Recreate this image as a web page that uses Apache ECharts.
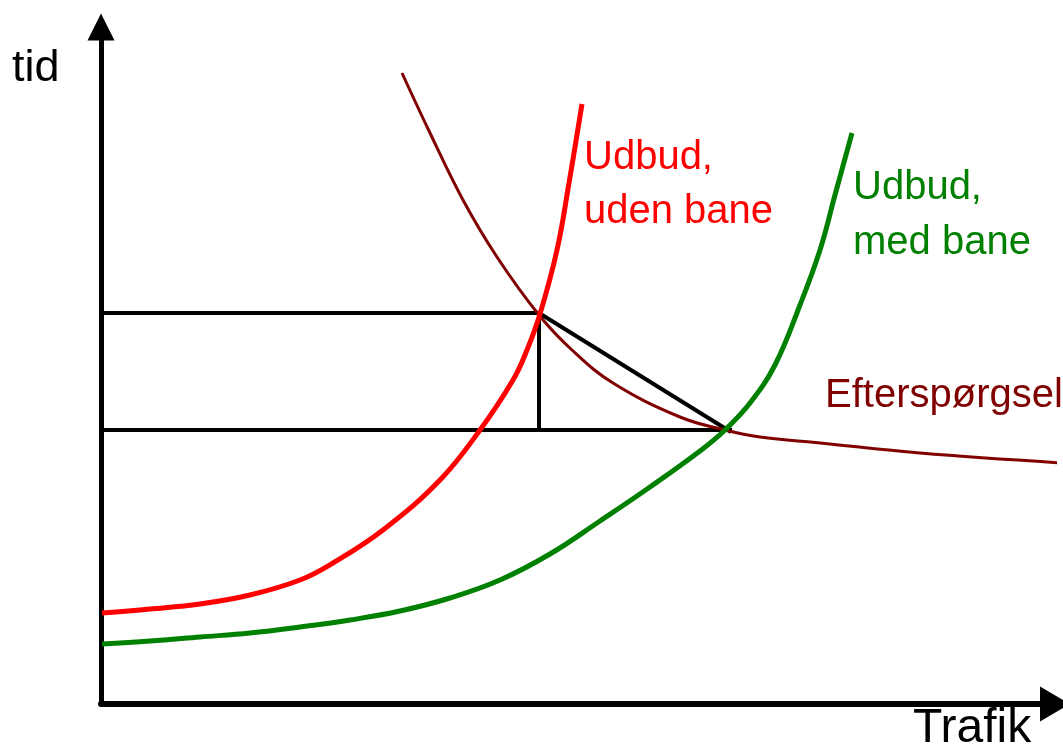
<!DOCTYPE html>
<html>
<head>
<meta charset="utf-8">
<script src="https://cdn.jsdelivr.net/npm/echarts@6/dist/echarts.min.js"></script>
<style>
html,body{margin:0;padding:0;background:#fff;}
#chart{width:1063px;height:753px;}
</style>
</head>
<body>
<div id="chart"></div>
<script>
// Curves (x = traffic, y = time, in arbitrary units from the origin)
const supplyWithoutRail = [[1,91],[49,95],[99,100],[149,109],[199,124],[232,141],[282,174],[339,224],[379,274],[412,324],[426,354],[439,390],[456,454],[468,521],[481,600]];
const supplyWithRail = [[1,60],[49,63],[99,67],[149,71],[199,77],[249,84],[299,93],[349,106],[399,124],[449,150],[499,183],[549,217],[599,253],[624,274],[649,301],[674,339],[699,399],[719,454],[734,509],[751,571]];
const demand = [[301,631],[329,571],[362,504],[396,447],[438,389],[471,354],[512,321],[579,287],[624,274],[659,267],[719,261],[819,251],[962,241]];
// Guide lines
const upperLevel = [[0,391],[439,391]];
const dropLine = [[438,391],[438,274]];
const lowerLevel = [[0,274],[631,274]];
const diagonal = [[438,391],[630,272]];
// Texts
const yAxisName = 'tid';
const xAxisName = 'Trafik';
const labelWithout = ['Udbud,', 'uden bane'];
const labelWith = ['Udbud,', 'med bane'];
const labelDemand = 'Efterspørgsel';

const FONT = '"Liberation Sans", Arial, sans-serif';
const chart = echarts.init(document.getElementById('chart'));

function guide(data) {
  return {type:'line', data:data, symbol:'none', silent:true, z:1,
    lineStyle:{color:'#000', width:4}};
}
function curve(data, color, width, z) {
  return {type:'line', data:data, symbol:'none', smooth:0.4, clip:false, z:z,
    lineStyle:{color:color, width:width, cap:'butt'}};
}
function txt(text, x, y, size, color) {
  return {type:'text', x:x, y:y, style:{text:text, font:size + 'px ' + FONT, fill:color, verticalAlign:'middle', align:'left'}, z:20};
}

chart.setOption({
  animation:false,
  backgroundColor:'#fff',
  grid:{left:101, top:27, right:8, bottom:49, containLabel:false},
  xAxis:{type:'value', min:0, max:954,
    axisLine:{show:true, onZero:false, lineStyle:{color:'#000', width:6}, symbol:['none','triangle'], symbolSize:[35,30]},
    axisTick:{show:false}, axisLabel:{show:false}, splitLine:{show:false}},
  yAxis:{type:'value', min:0, max:677,
    axisLine:{show:true, onZero:false, lineStyle:{color:'#000', width:5}, symbol:['none','triangle'], symbolSize:[27,27]},
    axisTick:{show:false}, axisLabel:{show:false}, splitLine:{show:false}},
  series:[
    guide(upperLevel), guide(dropLine), guide(lowerLevel), guide(diagonal),
    curve(demand, '#800000', 3, 3),
    curve(supplyWithoutRail, '#ff0000', 5, 4),
    curve(supplyWithRail, '#008000', 5, 4)
  ],
  graphic:[
    txt(yAxisName, 12, 69, 45, '#000'),
    txt(xAxisName, 913, 729, 48, '#000'),
    txt(labelWithout[0], 584, 158, 40, '#ff0000'),
    txt(labelWithout[1], 584, 212, 40, '#ff0000'),
    txt(labelWith[0], 853, 188, 40, '#008000'),
    txt(labelWith[1], 853, 243, 40, '#008000'),
    txt(labelDemand, 825, 396, 40, '#800000')
  ]
});
</script>
</body>
</html>
